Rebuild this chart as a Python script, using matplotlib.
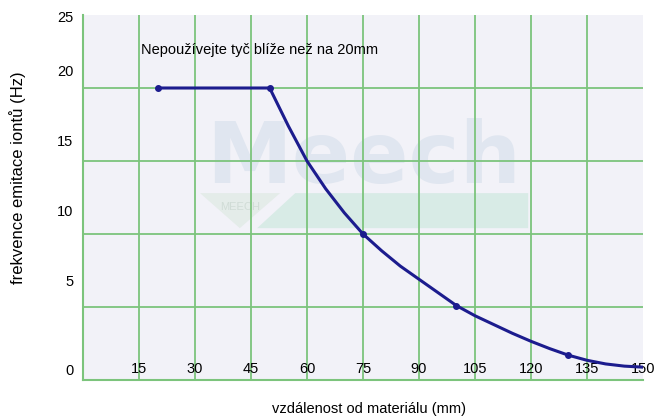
import matplotlib
matplotlib.use("Agg")
import matplotlib.pyplot as plt
from matplotlib.patches import Polygon

plt.rcParams['font.family'] = ['Liberation Sans', 'DejaVu Sans']

# hodnoty
vzdalenost = [20, 50, 55, 60, 65, 70, 75, 80, 85, 90, 95, 100, 105, 110, 115,
              120, 125, 130, 135, 140, 145, 150]
frekvence = [20, 20, 17.4, 15.0, 13.1, 11.45, 10.0, 8.85, 7.8, 6.9, 6.0, 5.1, 4.4,
             3.8, 3.2, 2.65, 2.15, 1.7, 1.35, 1.1, 0.95, 0.88]
body_x = [20, 50, 75, 100, 130]
body_y = [20, 20, 10, 5.1, 1.7]

x_ticks = [15, 30, 45, 60, 75, 90, 105, 120, 135, 150]
y_grid = [5, 10, 15, 20]
y_labels = ['0', '5', '10', '15', '20', '25']
y_label_pos = [0.7, 6.8, 11.6, 16.4, 21.2, 24.9]

zelena = '#7cc47c'

fig = plt.figure(figsize=(6.54, 4.17), dpi=100)
ax = fig.add_axes([83/654, 37/417, 560/654, 365/417])
ax.set_facecolor('#f2f2f8')
ax.set_xlim(0, 150)
ax.set_ylim(0, 25)

# vodoznak
ax.text(0.502, 0.540, 'Meech', transform=ax.transAxes, ha='center', va='baseline',
        fontsize=62, fontweight='bold', family='DejaVu Sans', color='#e0e6f0', zorder=0)
ax.add_patch(Polygon([(0.311, 0.416), (0.379, 0.512), (0.795, 0.512), (0.795, 0.416)],
                     closed=True, transform=ax.transAxes, facecolor='#d8ebe6',
                     edgecolor='none', zorder=0))
ax.add_patch(Polygon([(0.209, 0.512), (0.352, 0.512), (0.280, 0.416)],
                     closed=True, transform=ax.transAxes, facecolor='#e4ece9',
                     edgecolor='none', zorder=0))
ax.text(0.280, 0.475, 'MEECH', transform=ax.transAxes, ha='center', va='center',
        fontsize=8, color='#d0dcd6', zorder=0)

# mrizka
for x in x_ticks[:-1]:
    ax.axvline(x, color=zelena, lw=1.3, zorder=1)
for y in y_grid:
    ax.axhline(y, color=zelena, lw=1.3, zorder=1)

ax.plot(vzdalenost, frekvence, color='#1c1c8e', lw=2.2, zorder=3, solid_capstyle='round')
ax.plot(body_x, body_y, 'o', color='#1c1c8e', ms=4, zorder=4)

ax.text(15.5, 22.6, 'Nepoužívejte tyč blíže než na 20mm', fontsize=10.5, va='center', zorder=5)

ax.set_xticks(x_ticks)
ax.set_xticklabels([str(v) for v in x_ticks], fontsize=10.5)
ax.tick_params(axis='x', length=0, pad=-13)
ax.set_yticks(y_label_pos)
ax.set_yticklabels(y_labels, fontsize=10.5)
ax.tick_params(axis='y', length=0, pad=7)

for s in ['top', 'right']:
    ax.spines[s].set_visible(False)
for s in ['left', 'bottom']:
    ax.spines[s].set_color(zelena)
    ax.spines[s].set_linewidth(1.5)

fig.text(18/654, 1 - 178/417, 'frekvence emitace iontů (Hz)', rotation=90,
         ha='center', va='center', fontsize=12)
fig.text(369/654, 1 - 409/417, 'vzdálenost od materiálu (mm)', ha='center',
         va='center', fontsize=10.5)

fig.savefig('out.png', dpi=100)
